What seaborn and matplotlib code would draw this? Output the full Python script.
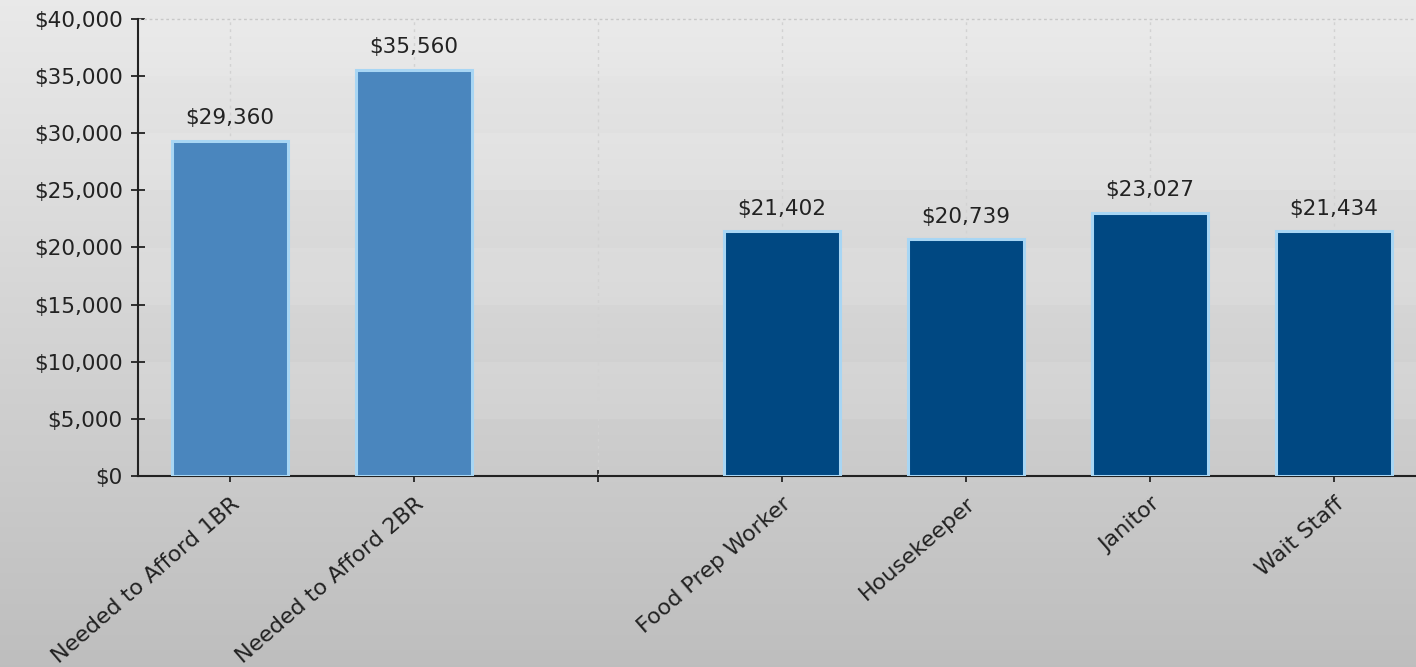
import numpy as np
import pandas as pd
import matplotlib
matplotlib.use("Agg")
import matplotlib.pyplot as plt
import seaborn as sns

# ---- data ----
categories = ["Needed to Afford 1BR", "Needed to Afford 2BR", " ",
              "Food Prep Worker", "Housekeeper", "Janitor", "Wait Staff"]
values = [29360, 35560, np.nan, 21402, 20739, 23027, 21434]
groups = ["need", "need", "none", "wage", "wage", "wage", "wage"]
y_ticks = [0, 5000, 10000, 15000, 20000, 25000, 30000, 35000, 40000]

group_colors = {"need": "#4A86BE", "wage": "#004882", "none": "#004882"}

df = pd.DataFrame({"category": categories, "value": values, "group": groups})
palette = {c: group_colors[g] for c, g in zip(categories, groups)}

sns.set_theme(style="white")
plt.rcParams["font.family"] = ["DejaVu Sans"]

W, H = 1416, 667
fig = plt.figure(figsize=(W / 100, H / 100), dpi=100)

# gradient background
bg = fig.add_axes([0, 0, 1, 1], zorder=-10)
grad = np.linspace(0, 1, 256).reshape(-1, 1)
top = np.array([0.915, 0.915, 0.915])
bot = np.array([0.745, 0.745, 0.745])
img = top[None, None, :] * (1 - grad[:, :, None]) + bot[None, None, :] * grad[:, :, None]
bg.imshow(img, aspect="auto", extent=[0, 1, 0, 1], origin="upper")
bg.set_axis_off()

left = 138 / W
bottom = 1 - 476 / H
height = (476 - 19) / H
width = 7 * 184 / W
ax = fig.add_axes([left, bottom, width, height])
ax.set_facecolor("none")

sns.barplot(data=df, x="category", y="value", hue="category", order=categories,
            palette=palette, legend=False, width=0.63, ax=ax, saturation=1,
            edgecolor="#A8D6F4", linewidth=2.2, zorder=3, errorbar=None)

ax.set_xlim(-0.5, 6.5)
ax.set_ylim(0, 40000)

# horizontal bands & grid
for i, y0 in enumerate(y_ticks[:-1]):
    if i % 2 == 1:
        ax.axhspan(y0, y0 + 5000, color="white", alpha=0.10, zorder=0, lw=0)
ax.axhline(40000, color="#c8c8c8", lw=1, ls=(0, (2, 2)), zorder=1, clip_on=False)
for x in range(len(categories)):
    ax.axvline(x, color="#d2d2d2", lw=1, ls=(0, (2, 3)), zorder=1)

# labels above bars
for x, v in enumerate(values):
    if not np.isnan(v):
        ax.annotate(f"${v:,.0f}", (x, v), xytext=(0, 9), textcoords="offset points",
                    ha="center", va="bottom", fontsize=15.5, color="#222222")

ax.set_yticks(y_ticks)
ax.set_yticklabels([f"${t:,.0f}" for t in y_ticks], fontsize=15.5, color="#222222")
ax.set_xticks(range(len(categories)))
ax.set_xticklabels(categories, rotation=41, ha="right", rotation_mode="anchor",
                   fontsize=16, color="#222222")
ax.tick_params(axis="y", direction="inout", length=10, width=1.3, color="#222222", pad=6, left=True)
ax.tick_params(axis="x", direction="inout", length=9, width=1.3, color="#222222", pad=8, bottom=True)

ax.set_xlabel("")
ax.set_ylabel("")
for s in ["top", "right"]:
    ax.spines[s].set_visible(False)
for s in ["left", "bottom"]:
    ax.spines[s].set_color("#222222")
    ax.spines[s].set_linewidth(1.5)

fig.savefig("out.png", dpi=100)
